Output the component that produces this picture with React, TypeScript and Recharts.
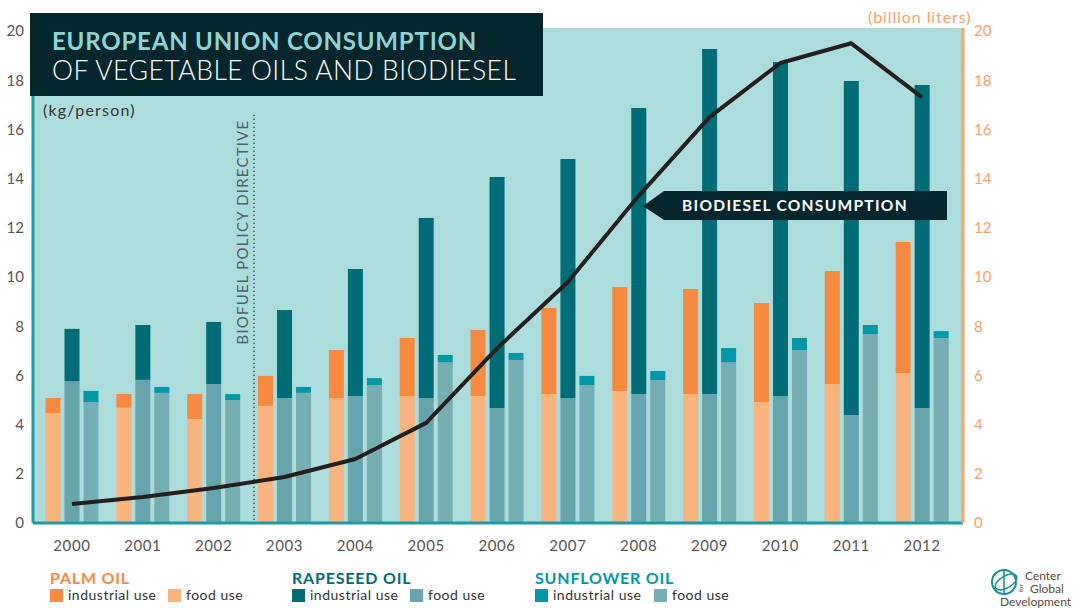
import {
  Bar,
  CartesianGrid,
  ComposedChart,
  Line,
  ReferenceLine,
  XAxis,
  YAxis,
} from "recharts";

// values (kg/person, biodiesel in billion liters)
const years = ["2000", "2001", "2002", "2003", "2004", "2005", "2006", "2007", "2008", "2009", "2010", "2011", "2012"];
const palmFood = [4.47, 4.69, 4.23, 4.76, 5.08, 5.16, 5.16, 5.24, 5.37, 5.24, 4.92, 5.65, 6.1];
const palmIndustrial = [0.61, 0.55, 1.01, 1.22, 1.95, 2.36, 2.69, 3.5, 4.22, 4.27, 4.02, 4.59, 5.32];
const rapeFood = [5.77, 5.82, 5.65, 5.08, 5.16, 5.08, 4.67, 5.08, 5.24, 5.24, 5.16, 4.39, 4.67];
const rapeIndustrial = [2.12, 2.23, 2.52, 3.58, 5.17, 7.32, 9.4, 9.72, 11.63, 14.03, 13.58, 13.58, 13.13];
const sunFood = [4.92, 5.29, 5.0, 5.29, 5.61, 6.54, 6.63, 5.61, 5.81, 6.54, 7.03, 7.68, 7.52];
const sunIndustrial = [0.45, 0.24, 0.24, 0.24, 0.28, 0.29, 0.28, 0.37, 0.37, 0.57, 0.49, 0.37, 0.28];
const biodiesel = [0.77, 1.06, 1.42, 1.87, 2.6, 4.07, 7.1, 9.8, 13.3, 16.5, 18.7, 19.5, 17.3];
const ticks = [0, 2, 4, 6, 8, 10, 12, 14, 16, 18, 20];

const data = years.map((year, i) => ({
  idx: i,
  year,
  palmFood: palmFood[i],
  palmIndustrial: palmIndustrial[i],
  rapeFood: rapeFood[i],
  rapeIndustrial: rapeIndustrial[i],
  sunFood: sunFood[i],
  sunIndustrial: sunIndustrial[i],
  biodiesel: biodiesel[i],
}));

const FONT = "Lato, 'Open Sans', sans-serif";
const C = {
  bg: "#acdcdc",
  dark: "#06262d",
  palmInd: "#f58a40",
  palmFood: "#f8b47f",
  rapeInd: "#006c76",
  rapeFood: "#68a4ab",
  sunInd: "#0098a6",
  sunFood: "#77aeb3",
  orangeText: "#f7a16a",
  grey: "#555555",
};

const PolicyLabel = (props: any) => {
  const { viewBox } = props;
  const x = viewBox.x - 6;
  const y = viewBox.y + 5;
  return (
    <text
      x={x}
      y={y}
      transform={`rotate(-90 ${x} ${y})`}
      textAnchor="end"
      fill="#4a6469"
      fontSize={15}
      fontFamily={FONT}
      letterSpacing={1.2}
    >
      BIOFUEL POLICY DIRECTIVE
    </text>
  );
};

const LegendGroup = (p: { left: number; title: string; color: string; ind: string; food: string; foodLeft: number }) => (
  <>
    <div style={{ position: "absolute", left: p.left, top: 568, color: p.color, fontWeight: 700, fontSize: 16, letterSpacing: 0.8, whiteSpace: "nowrap" }}>
      {p.title}
    </div>
    <div style={{ position: "absolute", left: p.left, top: 589, width: 13, height: 13, background: p.ind }} />
    <div style={{ position: "absolute", left: p.left + 18, top: 586, fontSize: 14, letterSpacing: 0.5, color: "#333", whiteSpace: "nowrap" }}>industrial use</div>
    <div style={{ position: "absolute", left: p.foodLeft, top: 589, width: 13, height: 13, background: p.food }} />
    <div style={{ position: "absolute", left: p.foodLeft + 18, top: 586, fontSize: 14, letterSpacing: 0.5, color: "#333", whiteSpace: "nowrap" }}>food use</div>
  </>
);

export default function App() {
  return (
    <div style={{ position: "absolute", left: 0, top: 0, width: 1082, height: 608, background: "#fff", fontFamily: FONT }}>
      <ComposedChart
        width={1082}
        height={608}
        data={data}
        margin={{ top: 28, right: 69, bottom: 55, left: 0 }}
        barSize={15}
        barGap={4}
      >
        <CartesianGrid horizontal={false} vertical={false} fill={C.bg} stroke="none" />
        <XAxis
          dataKey="year"
          height={30}
          padding={{ left: 3.5, right: 5.5 }}
          axisLine={{ stroke: "#1b9aa8", strokeWidth: 3 }}
          tickLine={false}
          tickSize={0}
          tickMargin={17}
          tick={{ fill: C.grey, fontSize: 15, fontFamily: FONT, letterSpacing: 0.6 }}
        />
        {/* hidden numeric axis, only used to place the policy marker between two years */}
        <XAxis
          xAxisId="pos"
          dataKey="idx"
          type="number"
          domain={[-0.5, 12.5]}
          allowDataOverflow
          padding={{ left: 3.5, right: 5.5 }}
          hide
        />
        <YAxis
          yAxisId="left"
          width={33}
          domain={[0, 20]}
          ticks={ticks}
          padding={{ top: 3 }}
          axisLine={{ stroke: "#1b9aa8", strokeWidth: 3 }}
          tickLine={false}
          tickSize={0}
          tickMargin={9}
          tick={{ fill: C.grey, fontSize: 15, fontFamily: FONT }}
        />
        <YAxis
          yAxisId="right"
          orientation="right"
          width={50}
          domain={[0, 20]}
          ticks={ticks}
          padding={{ top: 3 }}
          axisLine={{ stroke: "#f7a468", strokeWidth: 3 }}
          tickLine={false}
          tickSize={0}
          tickMargin={11}
          tick={{ fill: C.orangeText, fontSize: 15, fontFamily: FONT, textAnchor: "start" }}
        />
        <Bar yAxisId="left" dataKey="palmFood" stackId="palm" fill={C.palmFood} isAnimationActive={false} />
        <Bar yAxisId="left" dataKey="palmIndustrial" stackId="palm" fill={C.palmInd} isAnimationActive={false} />
        <Bar yAxisId="left" dataKey="rapeFood" stackId="rape" fill={C.rapeFood} isAnimationActive={false} />
        <Bar yAxisId="left" dataKey="rapeIndustrial" stackId="rape" fill={C.rapeInd} isAnimationActive={false} />
        <Bar yAxisId="left" dataKey="sunFood" stackId="sun" fill={C.sunFood} isAnimationActive={false} />
        <Bar yAxisId="left" dataKey="sunIndustrial" stackId="sun" fill={C.sunInd} isAnimationActive={false} />
        <ReferenceLine
          xAxisId="pos"
          yAxisId="left"
          segment={[{ x: 2.57, y: 16.6 }, { x: 2.57, y: 0 }]}
          stroke="#3a4f53"
          strokeWidth={2}
          strokeDasharray="1 3"
          label={<PolicyLabel />}
        />
        <Line
          yAxisId="right"
          dataKey="biodiesel"
          type="linear"
          stroke="#231f20"
          strokeWidth={4}
          strokeLinejoin="round"
          dot={false}
          activeDot={false}
          isAnimationActive={false}
        />
      </ComposedChart>

      {/* title box */}
      <div style={{ position: "absolute", left: 30, top: 13, width: 513, height: 83, background: C.dark }}>
        <div style={{ position: "absolute", left: 22, top: 13, color: "#8ed4d5", fontWeight: 700, fontSize: 24, letterSpacing: 0.8, whiteSpace: "nowrap" }}>
          EUROPEAN UNION CONSUMPTION
        </div>
        <div style={{ position: "absolute", left: 22, top: 41, color: "#ffffff", fontWeight: 300, fontSize: 26.5, letterSpacing: 0.5, whiteSpace: "nowrap" }}>
          OF VEGETABLE OILS AND BIODIESEL
        </div>
      </div>

      <div style={{ position: "absolute", left: 43, top: 100, fontSize: 16, letterSpacing: 1.2, color: "#333" }}>(kg/person)</div>
      <div style={{ position: "absolute", left: 868, top: 7, fontSize: 16, letterSpacing: 0.9, color: C.orangeText, whiteSpace: "nowrap" }}>(billion liters)</div>

      {/* biodiesel callout */}
      <svg style={{ position: "absolute", left: 0, top: 0 }} width={1082} height={608}>
        <polygon points="643,206 664,191 947,191 947,220 664,220" fill={C.dark} />
        <text x={795} y={211} textAnchor="middle" fill="#fff" fontSize={15.5} fontWeight={700} fontFamily={FONT} letterSpacing={1.3}>
          BIODIESEL CONSUMPTION
        </text>
        {/* logo */}
        <circle cx={1004} cy={582} r={12} fill="none" stroke="#1a8c9a" strokeWidth={2} />
        <ellipse cx={1006} cy={582} rx={12} ry={6} fill="none" stroke="#1a8c9a" strokeWidth={1.5} transform="rotate(-30 1006 582)" />
        <path d="M1004 571 L1004 594" stroke="#1a8c9a" strokeWidth={1.5} />
        <text x={1025} y={580} fill="#5b4a3b" fontSize={12} fontFamily={FONT}>Center</text>
        <text x={1023} y={592} fill="#5b4a3b" fontSize={6} fontFamily={FONT} transform="rotate(-90 1023 592)">for</text>
        <text x={1030} y={593} fill="#5b4a3b" fontSize={12} fontFamily={FONT}>Global</text>
        <text x={1000} y={606} fill="#5b4a3b" fontSize={12} fontFamily={FONT}>Development</text>
      </svg>

      <LegendGroup left={50} title="PALM OIL" color={C.palmInd} ind={C.palmInd} food={C.palmFood} foodLeft={168} />
      <LegendGroup left={292} title="RAPESEED OIL" color={C.rapeInd} ind={C.rapeInd} food={C.rapeFood} foodLeft={410} />
      <LegendGroup left={535} title="SUNFLOWER OIL" color={C.sunInd} ind={C.sunInd} food={C.sunFood} foodLeft={654} />
    </div>
  );
}
